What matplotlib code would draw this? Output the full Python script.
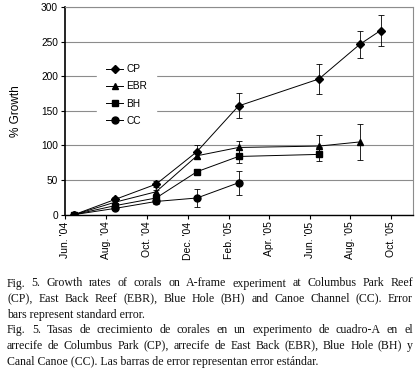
import matplotlib
matplotlib.use('Agg')
import matplotlib.pyplot as plt
import pandas as pd

plt.rcParams['font.family'] = ['Liberation Sans', 'DejaVu Sans']

# data (% growth, standard error)
dates_all = pd.to_datetime(['2004-06-15', '2004-08-15', '2004-10-15', '2004-12-15',
                            '2005-02-15', '2005-06-15', '2005-08-15', '2005-09-15'])
cp = [0, 22, 44, 91, 157, 196, 246, 266]
cp_err = [0, 3, 4, 9, 18, 22, 20, 22]
ebr = [0, 18, 33, 85, 97, 99, 105]
ebr_err = [0, 2, 3, 5, 9, 16, 26]
bh = [0, 13, 24, 62, 84, 87]
bh_err = [0, 2, 3, 4, 10, 10]
cc = [0, 9, 19, 24, 46]
cc_err = [0, 2, 3, 12.5, 17.5]

tick_dates = pd.date_range('2004-06-01', '2005-10-01', freq='2MS')
tick_labels = ["Jun. '04", "Aug. '04", "Oct. '04", "Dec. '04", "Feb. '05",
               "Apr. '05", "Jun. '05", "Aug. '05", "Oct. '05"]

caption = [
    ("Fig. 5. Growth rates of corals on A-frame experiment at Columbus Park Reef", True),
    ("(CP), East Back Reef (EBR), Blue Hole (BH) and Canoe Channel (CC). Error", True),
    ("bars represent standard error.", False),
    ("Fig. 5. Tasas de crecimiento de corales en un experimento de cuadro-A en el", True),
    ("arrecife de Columbus Park (CP), arrecife de East Back (EBR), Blue Hole (BH) y", True),
    ("Canal Canoe (CC). Las barras de error representan error estándar.", False),
]

W, H = 420, 370
fig = plt.figure(figsize=(W / 100, H / 100), dpi=100)
ax = fig.add_axes([65 / W, 1 - 214.6 / H, 347.7 / W, 207.6 / H])

series = [(cp, cp_err, 'D', 3.6, 'CP'),
          (ebr, ebr_err, '^', 4.6, 'EBR'),
          (bh, bh_err, 's', 3.8, 'BH'),
          (cc, cc_err, 'o', 5.0, 'CC')]
for vals, err, mk, ms, lab in series:
    d = dates_all[:len(vals)]
    ax.errorbar(d, vals, yerr=err, fmt='none', ecolor='black', elinewidth=0.6,
                capsize=2.2, capthick=0.6, zorder=3)
    ax.plot(d, vals, color='black', lw=0.7, marker=mk, ms=ms, label=lab, zorder=4)

ax.set_ylim(0, 300)
ax.set_yticks(range(0, 301, 50))
ax.set_xlim(pd.Timestamp('2004-06-01'), pd.Timestamp('2005-11-02'))
ax.set_xticks(tick_dates)
ax.set_xticklabels(tick_labels, rotation=90, fontsize=7.5)
ax.tick_params(axis='y', labelsize=7.3, length=3, width=0.8, pad=2)
ax.tick_params(axis='x', length=3, width=0.8, pad=2)
ax.yaxis.grid(True, color='#8c8c8c', lw=0.8)
ax.set_axisbelow(True)
for s in ['top', 'right']:
    ax.spines[s].set_color('#8c8c8c')
    ax.spines[s].set_linewidth(0.8)
ax.spines['left'].set_linewidth(1.2)
ax.spines['bottom'].set_linewidth(1.0)
ax.set_ylabel('% Growth', fontsize=8.5, labelpad=14)

leg = ax.legend(loc='upper left', bbox_to_anchor=(0.092, 0.769), fontsize=7.3,
                frameon=True, facecolor='white', edgecolor='white', fancybox=False,
                handlelength=1.7, handletextpad=0.3, labelspacing=0.72,
                borderpad=0.9, borderaxespad=0)
leg.get_frame().set_alpha(1)

# caption, justified like the journal text
serif = dict(family=['Liberation Serif', 'DejaVu Serif'], fontsize=8.6, color='#111111')
renderer = fig.canvas.get_renderer()
x0, x1 = 7, 413
y0, dy = 286.5, 15.6
for i, (line, just) in enumerate(caption):
    yb = 1 - (y0 + i * dy) / H
    if not just:
        fig.text(x0 / W, yb, line, va='baseline', ha='left', **serif)
        continue
    words = line.split(' ')
    widths = []
    for w in words:
        t = fig.text(0, 0, w, **serif)
        widths.append(t.get_window_extent(renderer).width)
        t.remove()
    gap = (x1 - x0 - sum(widths)) / (len(words) - 1)
    x = x0
    for w, wd in zip(words, widths):
        fig.text(x / W, yb, w, va='baseline', ha='left', **serif)
        x += wd + gap

fig.savefig('out.png', dpi=100)
